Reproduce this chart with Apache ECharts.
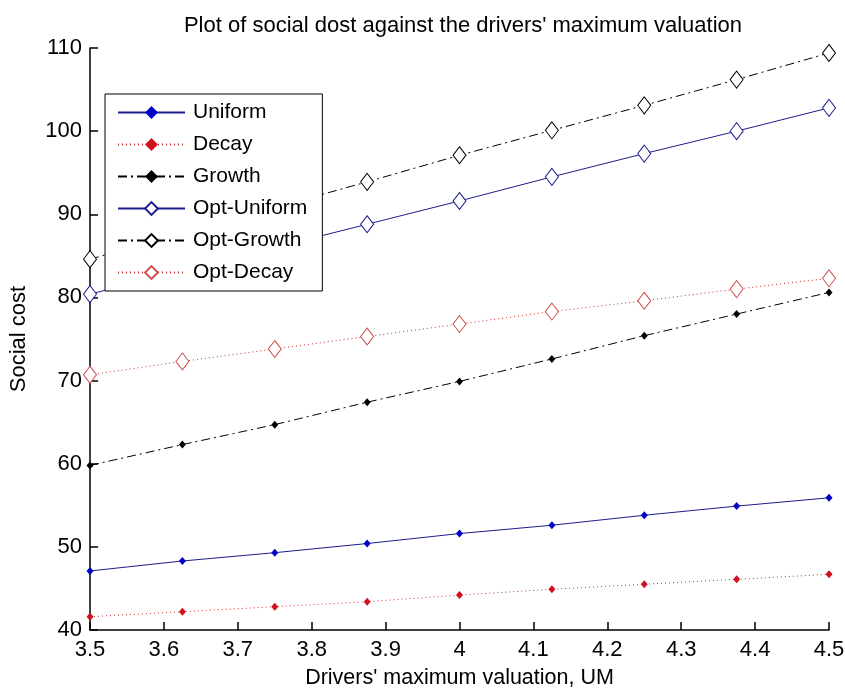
<!DOCTYPE html>
<html>
<head>
<meta charset="utf-8">
<script src="https://cdn.jsdelivr.net/npm/echarts@6/dist/echarts.min.js"></script>
<style>
  html, body { margin: 0; padding: 0; background: #fff; }
  #chart { width: 845px; height: 690px; }
</style>
</head>
<body>
<div id="chart"></div>
<script>
// drivers' maximum valuation (x)
var valuation = [3.5, 3.625, 3.75, 3.875, 4, 4.125, 4.25, 4.375, 4.5];

// social cost per scheme
var uniform = [47.1, 48.3, 49.3, 50.4, 51.6, 52.6, 53.8, 54.9, 55.9];
var decay = [41.6, 42.2, 42.8, 43.4, 44.2, 44.9, 45.5, 46.1, 46.7];
var growth = [59.8, 62.3, 64.7, 67.4, 69.9, 72.6, 75.4, 78.0, 80.6];
var optUniform = [80.4, 83.2, 86.0, 88.8, 91.6, 94.5, 97.3, 100.0, 102.8];
var optGrowth = [84.6, 87.7, 90.8, 93.9, 97.1, 100.1, 103.1, 106.2, 109.4];
var optDecay = [70.7, 72.3, 73.8, 75.3, 76.8, 78.3, 79.6, 81.0, 82.3];

var fontFamily = 'Liberation Sans, Arial, sans-serif';

function pairs(ys) {
  return valuation.map(function (x, i) { return [x, ys[i]]; });
}

function makeSeries(name, ys, color, lineType, hollow, markerColor) {
  return {
    name: name,
    type: 'line',
    data: pairs(ys),
    symbol: 'diamond',
    symbolSize: hollow ? [13, 17] : [7, 8],
    showAllSymbol: true,
    lineStyle: { color: color, width: 1, type: lineType },
    itemStyle: hollow
      ? { color: '#fff', borderColor: markerColor, borderWidth: 1 }
      : { color: markerColor, borderWidth: 0 },
    emphasis: { disabled: true },
    animation: false
  };
}

var dashDot = [9, 4, 2, 4];
var dotted = [1, 3];

var chart = echarts.init(document.getElementById('chart'));
var option = {
  backgroundColor: '#fff',
  title: {
    text: "Plot of social dost against the drivers' maximum valuation",
    left: 458,
    textAlign: 'center',
    top: 10,
    textStyle: { fontFamily: fontFamily, fontSize: 22, fontWeight: 'normal', color: '#000' }
  },
  grid: { left: 90, right: 16, top: 48, bottom: 60, outerBoundsMode: 'none' },
  legend: {
    left: 105,
    top: 94,
    orient: 'vertical',
    itemWidth: 67,
    itemHeight: 16,
    itemGap: 11,
    padding: [8, 15, 8, 12],
    backgroundColor: '#fff',
    borderColor: '#000',
    borderWidth: 1,
    textStyle: { fontFamily: fontFamily, fontSize: 21, color: '#000', padding: [0, 0, 0, 3] },
    data: ['Uniform', 'Decay', 'Growth', 'Opt-Uniform', 'Opt-Growth', 'Opt-Decay']
  },
  xAxis: {
    type: 'value',
    min: 3.5,
    max: 4.5,
    interval: 0.1,
    name: "Drivers' maximum valuation, UM",
    nameLocation: 'middle',
    nameGap: 37,
    nameTextStyle: { fontFamily: fontFamily, fontSize: 21.5, color: '#000' },
    axisLine: { lineStyle: { color: '#000', width: 1.5 } },
    axisTick: { inside: true, length: 8, lineStyle: { color: '#000', width: 1.5 } },
    axisLabel: {
      fontFamily: fontFamily, fontSize: 22, color: '#000', margin: 9,
      formatter: function (v) { return String(+v.toFixed(1)); }
    },
    splitLine: { show: false }
  },
  yAxis: {
    type: 'value',
    min: 40,
    max: 110,
    interval: 10,
    name: 'Social cost',
    nameLocation: 'middle',
    nameGap: 60,
    nameTextStyle: { fontFamily: fontFamily, fontSize: 22, color: '#000' },
    axisLine: { show: true, lineStyle: { color: '#000', width: 1.5 } },
    axisTick: { show: true, inside: true, length: 8, lineStyle: { color: '#000', width: 1.5 } },
    axisLabel: { fontFamily: fontFamily, fontSize: 22, color: '#000', margin: 8 },
    splitLine: { show: false }
  },
  series: [
    makeSeries('Uniform', uniform, '#1c1c8c', 'solid', false, '#0000c8'),
    makeSeries('Decay', decay, '#c83232', dotted, false, '#d0101c'),
    makeSeries('Growth', growth, '#000', dashDot, false, '#000'),
    makeSeries('Opt-Uniform', optUniform, '#1c1c8c', 'solid', true, '#1c1c8c'),
    makeSeries('Opt-Growth', optGrowth, '#000', dashDot, true, '#000'),
    makeSeries('Opt-Decay', optDecay, '#c83232', dotted, true, '#d05050')
  ]
};
chart.setOption(option);
</script>
</body>
</html>
